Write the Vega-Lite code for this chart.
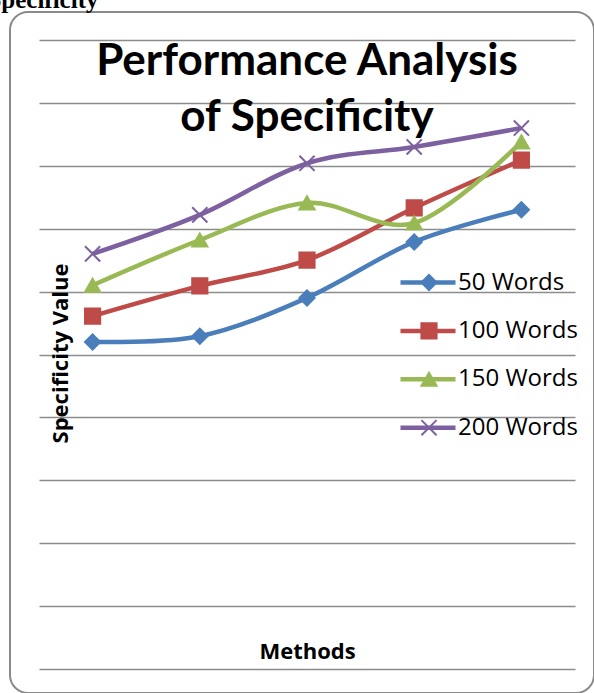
{
  "$schema": "https://vega.github.io/schema/vega-lite/v6.json",
  "width": 584,
  "height": 681,
  "autosize": {"type": "none"},
  "padding": {"left": 10, "top": 12, "right": 0, "bottom": 0},
  "background": "white",
  "config": {
    "font": "Lato",
    "view": {"stroke": "#8a8a8a", "strokeWidth": 2, "cornerRadius": 18},
    "axis": {"labels": false, "ticks": false, "domain": false, "grid": false, "titleColor": "black"},
    "legend": {"padding": 0}
  },
  "title": {
    "text": ["Performance Analysis", "of Specificity"],
    "font": "Lato",
    "fontSize": 44,
    "fontWeight": "bold",
    "color": "black",
    "lineHeight": 56,
    "anchor": "middle",
    "frame": "group",
    "offset": -153,
    "dx": 5
  },
  "data": {
    "values": [
      {"series": "50 Words", "method": "Method 1", "value": 52.0},
      {"series": "50 Words", "method": "Method 2", "value": 52.9},
      {"series": "50 Words", "method": "Method 3", "value": 59.0},
      {"series": "50 Words", "method": "Method 4", "value": 67.9},
      {"series": "50 Words", "method": "Method 5", "value": 73.0},
      {"series": "100 Words", "method": "Method 1", "value": 56.1},
      {"series": "100 Words", "method": "Method 2", "value": 60.9},
      {"series": "100 Words", "method": "Method 3", "value": 65.0},
      {"series": "100 Words", "method": "Method 4", "value": 73.3},
      {"series": "100 Words", "method": "Method 5", "value": 80.9},
      {"series": "150 Words", "method": "Method 1", "value": 61.0},
      {"series": "150 Words", "method": "Method 2", "value": 68.2},
      {"series": "150 Words", "method": "Method 3", "value": 74.1},
      {"series": "150 Words", "method": "Method 4", "value": 70.9},
      {"series": "150 Words", "method": "Method 5", "value": 83.8},
      {"series": "200 Words", "method": "Method 1", "value": 66.0},
      {"series": "200 Words", "method": "Method 2", "value": 72.2},
      {"series": "200 Words", "method": "Method 3", "value": 80.4},
      {"series": "200 Words", "method": "Method 4", "value": 83.0},
      {"series": "200 Words", "method": "Method 5", "value": 86.0}
    ]
  },
  "layer": [
    {
      "mark": {"type": "line", "interpolate": "cardinal", "strokeWidth": 4.5},
      "encoding": {
        "x": {
          "field": "method", "type": "ordinal",
          "scale": {"type": "point", "range": [29, 565], "padding": 0.5},
          "axis": {"orient": "bottom", "title": "Methods", "titleFont": "Open Sans", "titleFontSize": 22, "titleFontWeight": "bold", "titleX": 297, "titleY": -35, "titleAlign": "center", "titleBaseline": "alphabetic"}
        },
        "y": {
          "field": "value", "type": "quantitative",
          "scale": {"domain": [0, 100], "range": [657, 28], "nice": false, "zero": false},
          "axis": {"grid": true, "values": [0, 10, 20, 30, 40, 50, 60, 70, 80, 90, 100], "gridColor": "#8c8c8c", "gridWidth": 1.5, "title": "Specificity Value", "titleFont": "Open Sans", "titleFontSize": 22, "titleFontWeight": "bold", "titleX": 57, "titleY": 341, "titleAngle": -90, "titleAlign": "center", "titleBaseline": "alphabetic"}
        },
        "color": {
          "field": "series", "type": "nominal",
          "sort": {"field": "value", "op": "min"},
          "scale": {"range": ["#4A7EBB", "#BE4B48", "#98B954", "#7D60A0"]},
          "legend": {"orient": "none", "legendX": 406, "legendY": 258.5, "title": null, "symbolType": "M-5.5,0L5.5,0", "symbolSize": 100, "symbolStrokeWidth": 4.5, "labelExpr": "''", "labelOpacity": 0, "labelColor": "rgba(0,0,0,0)", "labelFont": "Open Sans", "labelFontSize": 24, "rowPadding": 24.4, "labelOffset": 17}
        }
      }
    },
    {
      "mark": {"type": "point", "filled": true, "size": 230, "opacity": 1, "strokeWidth": 2},
      "encoding": {
        "x": {
          "field": "method", "type": "ordinal",
          "axis": {"orient": "top", "title": "Specificity", "titleFont": "Liberation Serif", "titleFontSize": 25, "titleFontWeight": "bold", "titleX": 88, "titleY": -5, "titleAlign": "right", "titleBaseline": "alphabetic"}
        },
        "y": {"field": "value", "type": "quantitative"},
        "fill": {
          "field": "series", "type": "nominal",
          "scale": {"domain": ["50 Words", "100 Words", "150 Words", "200 Words"], "range": ["#4A7EBB", "#BE4B48", "#98B954", "#7D60A0"]},
          "legend": {"orient": "none", "legendX": 407, "legendY": 258.5, "title": null, "symbolSize": 230, "symbolStrokeWidth": 2, "labelFont": "Open Sans", "labelFontSize": 24, "labelColor": "black", "rowPadding": 24.4, "labelOffset": 17}
        },
        "stroke": {
          "field": "series", "type": "nominal",
          "scale": {"domain": ["50 Words", "100 Words", "150 Words", "200 Words"], "range": ["#4A7EBB", "#BE4B48", "#98B954", "#7D60A0"]},
          "legend": {"orient": "none", "legendX": 407, "legendY": 258.5, "title": null, "symbolSize": 230, "symbolStrokeWidth": 2, "labelFont": "Open Sans", "labelFontSize": 24, "labelColor": "black", "rowPadding": 24.4, "labelOffset": 17}
        },
        "shape": {
          "field": "series", "type": "nominal",
          "scale": {"domain": ["50 Words", "100 Words", "150 Words", "200 Words"], "range": ["diamond", "square", "triangle-up", "M-1,-1L1,1M-1,1L1,-1"]},
          "legend": {"orient": "none", "legendX": 407, "legendY": 258.5, "title": null, "symbolSize": 230, "symbolStrokeWidth": 2, "labelFont": "Open Sans", "labelFontSize": 24, "labelColor": "black", "rowPadding": 24.4, "labelOffset": 17}
        }
      }
    }
  ],
  "resolve": {"axis": {"x": "independent"}}
}
